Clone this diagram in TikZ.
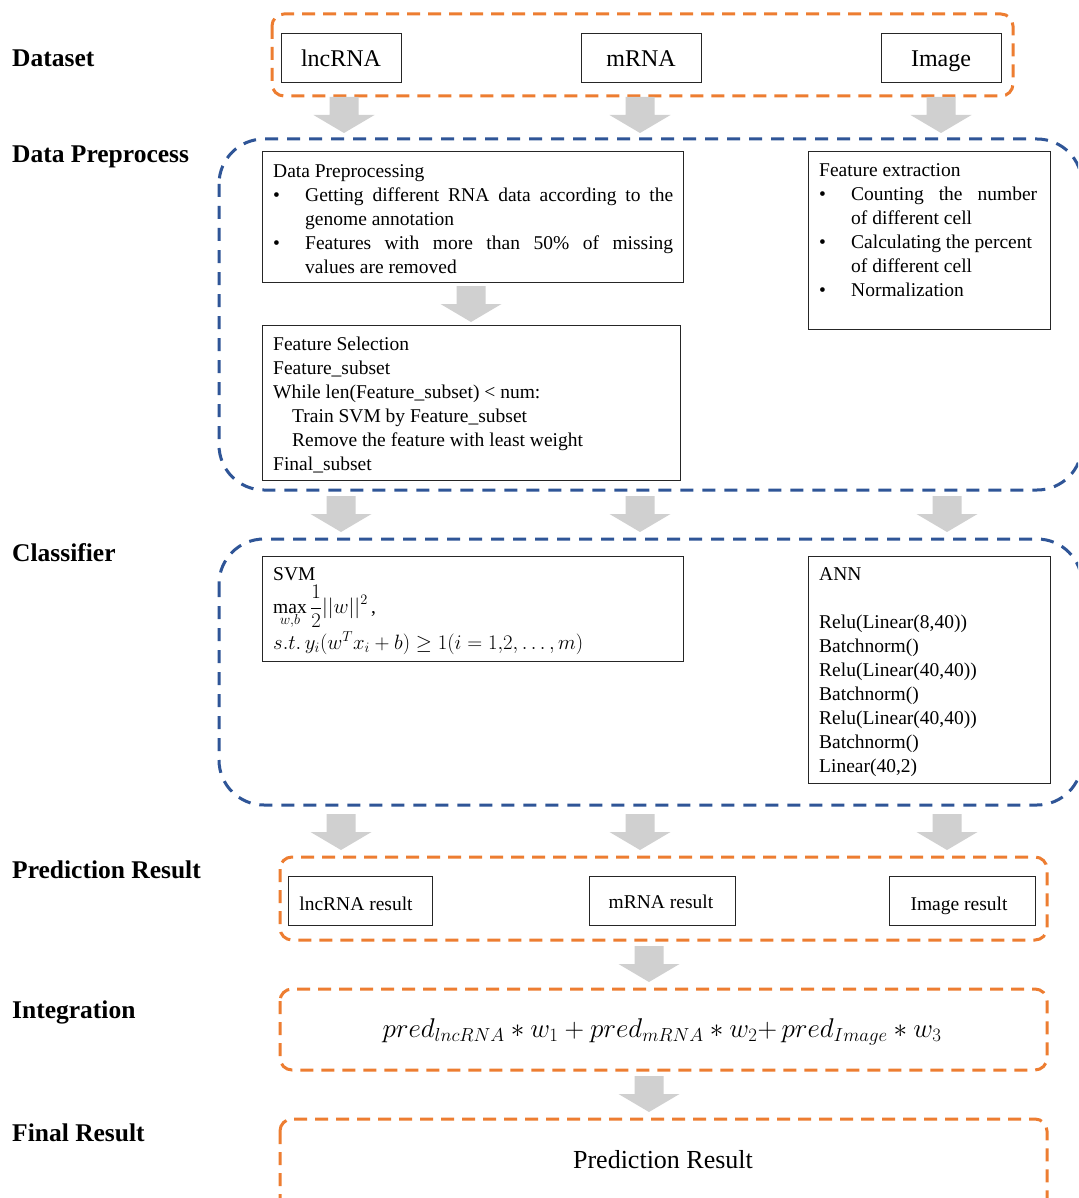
\documentclass[tikz,border=0pt]{standalone}
\usepackage{fontspec}
\setmainfont{Liberation Serif}
\definecolor{frameorange}{HTML}{ED7D31}
\definecolor{frameblue}{HTML}{2F5597}
\definecolor{arrowgray}{HTML}{D0D0D0}
\newcommand{\garr}[2]{\fill[arrowgray] (#1-14.5,#2) -- (#1+14.5,#2) -- (#1+14.5,#2+18) -- (#1+30.5,#2+18) -- (#1,#2+36) -- (#1-30.5,#2+18) -- (#1-14.5,#2+18) -- cycle;}
\begin{document}
\begin{tikzpicture}[x=1pt,y=-1pt,
  box/.style={draw=black!85, line width=1.3pt, inner sep=0pt, anchor=north west},
  lbl/.style={anchor=base west, inner sep=0pt, font=\fontsize{25.5}{30}\selectfont\bfseries},
  body/.style={anchor=north west, inner sep=0pt, align=left, font=\fontsize{19.5}{24}\selectfont},
  big/.style={anchor=base, inner sep=0pt, font=\fontsize{24}{28}\selectfont},
  small/.style={anchor=base, inner sep=0pt, font=\fontsize{19.5}{24}\selectfont},
  odash/.style={draw=frameorange, line width=3pt, dash pattern=on 13pt off 8pt, rounded corners=12pt},
  bdash/.style={draw=frameblue, line width=3pt, dash pattern=on 13pt off 9pt, rounded corners=45pt}]
\useasboundingbox (0,0) rectangle (1078,1198);
\clip (0,0) rectangle (1078,1198);
\fill[white] (0,0) rectangle (1078,1198);

% left labels
\node[lbl] (l1) at (12,67) {Dataset};
\node[lbl] (l2) at (12,163) {Data Preprocess};
\node[lbl] (l3) at (12,561) {Classifier};
\node[lbl] (l4) at (12,878) {Prediction Result};
\node[lbl] (l5) at (12,1018) {Integration};
\node[lbl] (l6) at (12,1141) {Final Result};

% dataset
\draw[odash] (272,14) rectangle (1013,96);
\node[box, minimum width=120pt, minimum height=49pt] (lnc) at (281,33) {};
\node[box, minimum width=120pt, minimum height=49pt] (mrna) at (581,33) {};
\node[box, minimum width=120pt, minimum height=49pt] (img) at (881,33) {};
\node[big] (lnct) at (341,67) {lncRNA};
\node[big] (mrnat) at (641,67) {mRNA};
\node[big] (imgt) at (941,67) {Image};

\garr{344}{97}
\garr{640}{97}
\garr{941}{97}

% preprocess
\draw[bdash] (219,139) rectangle (1082,490);
\node[box, minimum width=421pt, minimum height=131pt] (dp) at (262,151) {};
\node[body] (dpt) at (273,160.2) {\strut Data Preprocessing\\
\makebox[32pt][l]{\textbullet}\makebox[368pt][s]{Getting different RNA data according to the}\\
\hspace*{32pt}genome annotation\\
\makebox[32pt][l]{\textbullet}\makebox[368pt][s]{Features with more than 50\% of missing}\\
\hspace*{32pt}values are removed};
\garr{471}{286}
\node[box, minimum width=418pt, minimum height=155pt] (fs) at (262,325) {};
\node[body] (fst) at (273,333.2) {\strut Feature Selection\\
Feature\_subset\\
While len(Feature\_subset) < num:\\
\hspace*{19pt}Train SVM by Feature\_subset\\
\hspace*{19pt}Remove the feature with least weight\\
Final\_subset};
\node[box, minimum width=242pt, minimum height=178pt] (fe) at (808,151) {};
\node[body] (fet) at (819,159.2) {\strut Feature extraction\\
\makebox[32pt][l]{\textbullet}\makebox[186pt][s]{Counting the number}\\
\hspace*{32pt}of different cell\\
\makebox[32pt][l]{\textbullet}Calculating the percent\\
\hspace*{32pt}of different cell\\
\makebox[32pt][l]{\textbullet}Normalization};

\garr{341}{496}
\garr{640}{496}
\garr{947}{496}

% classifier
\draw[bdash] (219,539) rectangle (1082,805);
\node[box, minimum width=421pt, minimum height=105pt] (svm) at (262,556) {};
\node[small, anchor=base west] (svmt) at (273,580) {SVM};
\node[small, anchor=base west] (svmmax) at (273,613) {$\displaystyle\max_{w,b}\frac{1}{2}||w||^2$\,,};
\node[small, anchor=base west] (svmst) at (273,649) {$s.t.\,y_i(w^Tx_i+b)\geq 1(i=1{,}2,\ldots,m)$};
\node[box, minimum width=242pt, minimum height=227pt] (ann) at (808,556) {};
\node[body] (annt) at (819,563.2) {\strut ANN\\
\strut\\
Relu(Linear(8,40))\\
Batchnorm()\\
Relu(Linear(40,40))\\
Batchnorm()\\
Relu(Linear(40,40))\\
Batchnorm()\\
Linear(40,2)};

\garr{341}{814}
\garr{640}{814}
\garr{947}{814}

% prediction result
\draw[odash] (280,857) rectangle (1047,940);
\node[box, minimum width=144pt, minimum height=49pt] (r1) at (288,876) {};
\node[box, minimum width=146pt, minimum height=49pt] (r2) at (589,876) {};
\node[box, minimum width=146pt, minimum height=49pt] (r3) at (889,876) {};
\node[small] (r1t) at (356,910) {lncRNA result};
\node[small] (r2t) at (661,908) {mRNA result};
\node[small] (r3t) at (959,910) {Image result};

\garr{649}{946}

% integration
\draw[odash] (280,989) rectangle (1047,1070);
\node[big] (intt) at (662,1037) {\scalebox{1.09}{$pred_{lncRNA}\ast w_1+pred_{mRNA}\ast w_2{+}\,pred_{Image}\ast w_3$}};

\garr{649}{1076}

% final
\draw[odash] (280,1119) rectangle (1047,1230);
\node[big, font=\fontsize{26}{30}\selectfont] (fin) at (663,1168) {Prediction Result};
\end{tikzpicture}
\end{document}
